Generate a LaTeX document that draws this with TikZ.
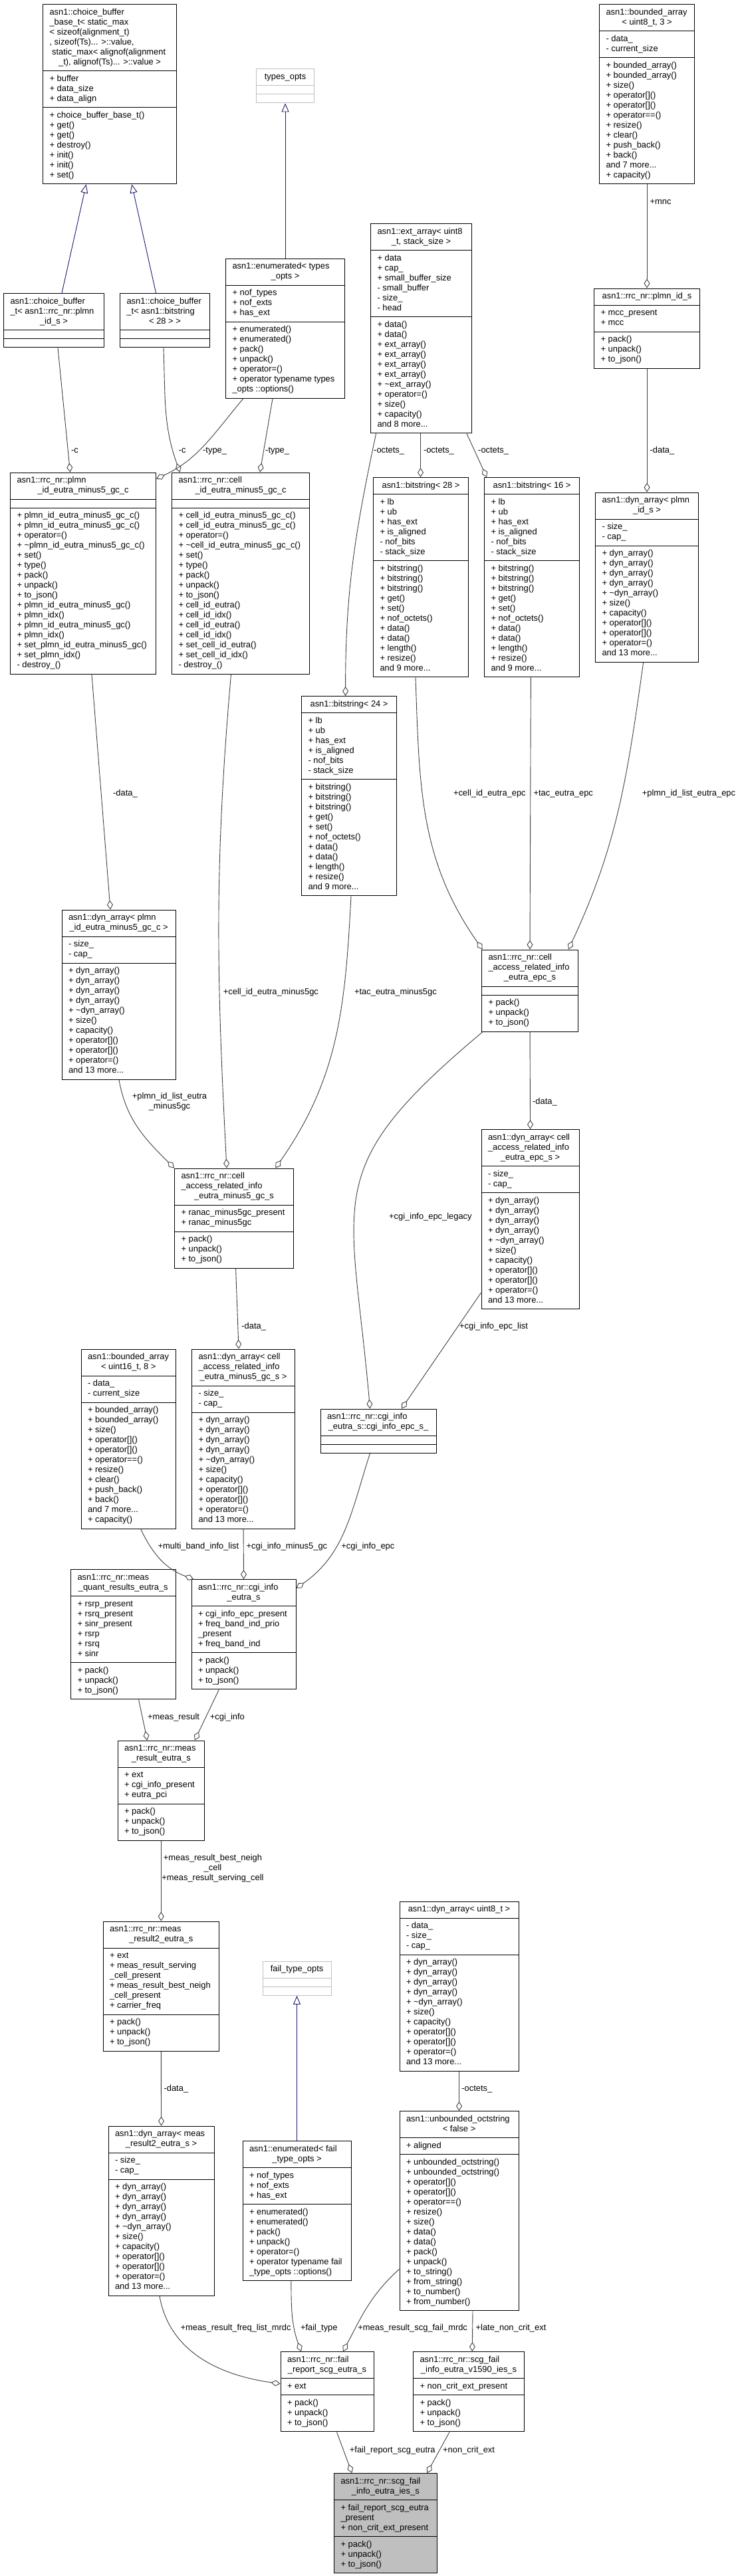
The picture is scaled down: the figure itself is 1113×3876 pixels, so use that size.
\documentclass[tikz,border=0pt]{standalone}
\usepackage{fontspec}
\setmainfont{Liberation Sans}
\usetikzlibrary{shapes.multipart,arrows.meta}
\definecolor{edgegrey}{HTML}{404040}
\definecolor{inhblue}{HTML}{191970}
\definecolor{undocgrey}{HTML}{BFBFBF}
\definecolor{focusgrey}{HTML}{BFBFBF}
\catcode`\_=12
\newcommand{\hdl}[1]{\hbox to\hsize{\strut#1\hfil}}
\newcommand{\hdc}[1]{\hbox to\hsize{\hfil\strut#1\hfil}}
\newcommand{\members}[1]{\begin{tabular}{@{}l@{}}#1\end{tabular}}
\newcommand{\umlclass}[8][]{%
  \node[cls,#1] (#2) at (#3,-#4)
    {\parbox{\dimexpr#5pt-20pt\relax}{#6}%
     \nodepart{two}\makebox[\dimexpr#5pt-20pt\relax][l]{\members{#7}}%
     \nodepart{three}\makebox[\dimexpr#5pt-20pt\relax][l]{\members{#8}}};}
\newcommand{\pujmethods}{+ pack()\\+ unpack()\\+ to_json()}
\newcommand{\dynmethods}{+ dyn_array()\\+ dyn_array()\\+ dyn_array()\\+ dyn_array()\\+ \textasciitilde dyn_array()\\+ size()\\+ capacity()\\+ operator[]()\\+ operator[]()\\+ operator=()\\and 13 more...}
\newcommand{\bamethods}{+ bounded_array()\\+ bounded_array()\\+ size()\\+ operator[]()\\+ operator[]()\\+ operator==()\\+ resize()\\+ clear()\\+ push_back()\\+ back()\\and 7 more...\\+ capacity()}
\newcommand{\bsattrs}{+ lb\\+ ub\\+ has_ext\\+ is_aligned\\- nof_bits\\- stack_size}
\newcommand{\bsmethods}{+ bitstring()\\+ bitstring()\\+ bitstring()\\+ get()\\+ set()\\+ nof_octets()\\+ data()\\+ data()\\+ length()\\+ resize()\\and 9 more...}
\begin{document}
\begin{tikzpicture}[x=1pt, y=1pt,
    cls/.style = {rectangle split, rectangle split parts=3, draw=black, fill=white,
      line width=1.1pt, inner xsep=10pt, inner ysep=4.5pt, anchor=north west,
      font=\fontsize{12.9}{15}\selectfont},
    undoc/.style = {draw=undocgrey},
    focus/.style = {fill=focusgrey},
    agg/.style = {draw=edgegrey, line width=0.9pt, -{Diamond[open, length=14pt, width=9pt]}},
    inh/.style = {draw=inhblue, line width=0.9pt, -{Triangle[open, length=13pt, width=11pt]}},
    lbl/.style = {font=\fontsize{12.9}{15}\selectfont, inner sep=0pt, anchor=west,
      execute at begin node=\strut}]
  \fill[white] (0,0) rectangle (1113,-3876);
  \useasboundingbox (0,0) rectangle (1113,-3876);

  \umlclass{base}{64}{6}{201}{\hdl{asn1::choice_buffer}\hdl{_base_t< static_max}\hdl{< sizeof(alignment_t)}\hdl{, sizeof(Ts)... >::value,}\hdl{\ static_max< alignof(alignment}\hdc{_t), alignof(Ts)... >::value >}}{+ buffer\\+ data_size\\+ data_align}{+ choice_buffer_base_t()\\+ get()\\+ get()\\+ destroy()\\+ init()\\+ init()\\+ set()}
  \umlclass[undoc]{typesopts}{385}{103}{87}{\hdc{types_opts}}{}{}
  \umlclass{ba3}{901}{6}{143}{\hdl{asn1::bounded_array}\hdc{< uint8_t, 3 >}}{- data_\\- current_size}{\bamethods}
  \umlclass{cbplmn}{5}{441}{151}{\hdl{asn1::choice_buffer}\hdl{_t< asn1::rrc_nr::plmn}\hdc{_id_s >}}{}{}
  \umlclass{cbbits}{180}{441}{135}{\hdl{asn1::choice_buffer}\hdl{_t< asn1::bitstring}\hdc{< 28 > >}}{}{}
  \umlclass{enumtypes}{339}{388.5}{179}{\hdl{asn1::enumerated< types}\hdc{_opts >}}{+ nof_types\\+ nof_exts\\+ has_ext}{+ enumerated()\\+ enumerated()\\+ pack()\\+ unpack()\\+ operator=()\\+ operator typename types\\_opts ::options()}
  \umlclass{extarr}{557}{336}{152}{\hdl{asn1::ext_array< uint8}\hdc{_t, stack_size >}}{+ data\\+ cap_\\+ small_buffer_size\\- small_buffer\\- size_\\- head}{+ data()\\+ data()\\+ ext_array()\\+ ext_array()\\+ ext_array()\\+ ext_array()\\+ \textasciitilde ext_array()\\+ operator=()\\+ size()\\+ capacity()\\and 8 more...}
  \umlclass{plmnid}{893}{433.5}{159}{\hdc{asn1::rrc_nr::plmn_id_s}}{+ mcc_present\\+ mcc}{\pujmethods}

  \umlclass{plmneutra}{15}{710.5}{219}{\hdl{asn1::rrc_nr::plmn}\hdc{_id_eutra_minus5_gc_c}}{}{+ plmn_id_eutra_minus5_gc_c()\\+ plmn_id_eutra_minus5_gc_c()\\+ operator=()\\+ \textasciitilde plmn_id_eutra_minus5_gc_c()\\+ set()\\+ type()\\+ pack()\\+ unpack()\\+ to_json()\\+ plmn_id_eutra_minus5_gc()\\+ plmn_idx()\\+ plmn_id_eutra_minus5_gc()\\+ plmn_idx()\\+ set_plmn_id_eutra_minus5_gc()\\+ set_plmn_idx()\\- destroy_()}
  \umlclass{cellid}{258}{710.5}{207}{\hdl{asn1::rrc_nr::cell}\hdc{_id_eutra_minus5_gc_c}}{}{+ cell_id_eutra_minus5_gc_c()\\+ cell_id_eutra_minus5_gc_c()\\+ operator=()\\+ \textasciitilde cell_id_eutra_minus5_gc_c()\\+ set()\\+ type()\\+ pack()\\+ unpack()\\+ to_json()\\+ cell_id_eutra()\\+ cell_id_idx()\\+ cell_id_eutra()\\+ cell_id_idx()\\+ set_cell_id_eutra()\\+ set_cell_id_idx()\\- destroy_()}
  \umlclass{bs28}{561}{718}{143}{\hdc{asn1::bitstring< 28 >}}{\bsattrs}{\bsmethods}
  \umlclass{bs16}{728}{718}{143}{\hdc{asn1::bitstring< 16 >}}{\bsattrs}{\bsmethods}
  \umlclass{dynplmn}{895}{740.5}{155}{\hdl{asn1::dyn_array< plmn}\hdc{_id_s >}}{- size_\\- cap_}{\dynmethods}
  \umlclass{bs24}{453}{1047}{143}{\hdc{asn1::bitstring< 24 >}}{\bsattrs}{\bsmethods}

  \umlclass{dynplmneutra}{92.5}{1368.5}{171}{\hdl{asn1::dyn_array< plmn}\hdc{_id_eutra_minus5_gc_c >}}{- size_\\- cap_}{\dynmethods}
  \umlclass{cardepc}{724}{1428.5}{145}{\hdl{asn1::rrc_nr::cell}\hdl{_access_related_info}\hdc{_eutra_epc_s}}{}{\pujmethods}
  \umlclass{cardm5}{262}{1757.5}{179}{\hdl{asn1::rrc_nr::cell}\hdl{_access_related_info}\hdc{_eutra_minus5_gc_s}}{+ ranac_minus5gc_present\\+ ranac_minus5gc}{\pujmethods}
  \umlclass{dynepc}{723.5}{1699}{147}{\hdl{asn1::dyn_array< cell}\hdl{_access_related_info}\hdc{_eutra_epc_s >}}{- size_\\- cap_}{\dynmethods}
  \umlclass{ba16}{121.5}{2029.5}{142.5}{\hdl{asn1::bounded_array}\hdc{< uint16_t, 8 >}}{- data_\\- current_size}{\bamethods}
  \umlclass{dynm5}{288}{2029.5}{155}{\hdl{asn1::dyn_array< cell}\hdl{_access_related_info}\hdc{_eutra_minus5_gc_s >}}{- size_\\- cap_}{\dynmethods}
  \umlclass{cgiepc}{481.5}{2119.5}{174}{\hdl{asn1::rrc_nr::cgi_info}\hdc{_eutra_s::cgi_info_epc_s_}}{}{}

  \umlclass{measquant}{106}{2361}{157.5}{\hdl{asn1::rrc_nr::meas}\hdc{_quant_results_eutra_s}}{+ rsrp_present\\+ rsrq_present\\+ sinr_present\\+ rsrp\\+ rsrq\\+ sinr}{\pujmethods}
  \umlclass{cgiinfo}{287.5}{2376}{157}{\hdl{asn1::rrc_nr::cgi_info}\hdc{_eutra_s}}{+ cgi_info_epc_present\\+ freq_band_ind_prio\\_present\\+ freq_band_ind}{\pujmethods}
  \umlclass{measres}{176.5}{2618.5}{130.5}{\hdl{asn1::rrc_nr::meas}\hdc{_result_eutra_s}}{+ ext\\+ cgi_info_present\\+ eutra_pci}{\pujmethods}
  \umlclass{measrestwo}{154.5}{2890.5}{174.5}{\hdl{asn1::rrc_nr::meas}\hdc{_result2_eutra_s}}{+ ext\\+ meas_result_serving\\_cell_present\\+ meas_result_best_neigh\\_cell_present\\+ carrier_freq}{\pujmethods}
  \umlclass[undoc]{failtypeopts}{394.5}{2950.5}{103}{\hdc{fail_type_opts}}{}{}
  \umlclass{dynuint}{600.5}{2860.5}{179}{\hdc{asn1::dyn_array< uint8_t >}}{- data_\\- size_\\- cap_}{\dynmethods}

  \umlclass{dynmrtwo}{162.5}{3198.5}{159}{\hdl{asn1::dyn_array< meas}\hdc{_result2_eutra_s >}}{- size_\\- cap_}{\dynmethods}
  \umlclass{enumfail}{364.5}{3221}{163}{\hdl{asn1::enumerated< fail}\hdc{_type_opts >}}{+ nof_types\\+ nof_exts\\+ has_ext}{+ enumerated()\\+ enumerated()\\+ pack()\\+ unpack()\\+ operator=()\\+ operator typename fail\\_type_opts ::options()}
  \umlclass{unboct}{600.5}{3176}{179}{\hdl{asn1::unbounded_octstring}\hdc{< false >}}{+ aligned}{+ unbounded_octstring()\\+ unbounded_octstring()\\+ operator[]()\\+ operator[]()\\+ operator==()\\+ resize()\\+ size()\\+ data()\\+ data()\\+ pack()\\+ unpack()\\+ to_string()\\+ from_string()\\+ to_number()\\+ from_number()}
  \umlclass{failrep}{421.5}{3538}{140}{\hdl{asn1::rrc_nr::fail}\hdc{_report_scg_eutra_s}}{+ ext}{\pujmethods}
  \umlclass{vfifteen}{621}{3538}{167}{\hdl{asn1::rrc_nr::scg_fail}\hdc{_info_eutra_v1590_ies_s}}{+ non_crit_ext_present}{\pujmethods}
  \umlclass[focus]{ies}{502}{3721}{154.5}{\hdl{asn1::rrc_nr::scg_fail}\hdc{_info_eutra_ies_s}}{+ fail_report_scg_eutra\\_present\\+ non_crit_ext_present}{\pujmethods}

  \draw[inh] ([xshift=88]cbplmn.north west) -- ([xshift=65.6]base.south west);
  \draw[inh] ([xshift=54.6]cbbits.north west) -- ([xshift=134.2]base.south west);
  \draw[inh] (enumtypes.north) -- (typesopts.south);
  \draw[inh] (enumfail.north) -- (failtypeopts.south);

  \draw[agg] (ba3.south) -- (plmnid.north);
  \draw[agg] ([xshift=82]cbplmn.south west) -- ([xshift=90.5]plmneutra.north west);
  \draw[agg] ([xshift=66]cbbits.south west) to[out=-88,in=110] ([xshift=12.7]cellid.north west);
  \draw[agg] ([xshift=26.7]enumtypes.south west) to[out=-130,in=25] ([yshift=-10]plmneutra.north east);
  \draw[agg] ([xshift=71]enumtypes.south west) -- ([xshift=133]cellid.north west);
  \draw[agg] ([xshift=8.6]extarr.south west) to[out=-102,in=90] ([xshift=66.6]bs24.north west);
  \draw[agg] ([xshift=75.5]extarr.south west) -- ([xshift=71.5]bs28.north west);
  \draw[agg] ([xshift=145]extarr.south west) -- ([xshift=4]bs16.north west);
  \draw[agg] (plmnid.south) -- (dynplmn.north);
  \draw[agg] ([xshift=123]plmneutra.south west) -- ([xshift=73.5]dynplmneutra.north west);
  \draw[agg] ([xshift=89.5]cellid.south west) to[out=-95,in=93] ([xshift=79]cardm5.north west);
  \draw[agg] ([xshift=75]bs24.south west) to[out=-93,in=55] ([xshift=152.3]cardm5.north west);
  \draw[agg] ([xshift=86.5]dynplmneutra.south west) to[out=-80,in=135] (cardm5.north west);
  \draw[agg] ([xshift=64]bs28.south west) to[out=-88,in=125] ([xshift=1.6]cardepc.north west);
  \draw[agg] ([xshift=70.4]bs16.south west) -- ([xshift=73]cardepc.north west);
  \draw[agg] ([xshift=72.6]dynplmn.south west) to[out=-98,in=65] ([xshift=131]cardepc.north west);
  \draw[agg] (cardepc.south) -- (dynepc.north);
  \draw[agg] ([xshift=1.6]cardepc.south west) to[out=-140,in=95,looseness=1.4] ([xshift=75]cgiepc.north west);
  \draw[agg] ([xshift=92.6]cardm5.south west) -- ([xshift=71]dynm5.north west);
  \draw[agg] ([yshift=25.3]dynepc.south west) -- ([xshift=122.5]cgiepc.north west);
  \draw[agg] ([xshift=90.3]ba16.south west) to[out=-65,in=160] ([xshift=3.5]cgiinfo.north west);
  \draw[agg] (dynm5.south) -- (cgiinfo.north);
  \draw[agg] ([xshift=75]cgiepc.south west) to[out=-108,in=35] ([yshift=-13.7]cgiinfo.north east);
  \draw[agg] ([xshift=102.6]measquant.south west) -- ([xshift=45]measres.north west);
  \draw[agg] ([xshift=41.8]cgiinfo.south west) -- ([xshift=116.4]measres.north west);
  \draw[agg] (measres.south) -- (measrestwo.north);
  \draw[agg] (measrestwo.south) -- (dynmrtwo.north);
  \draw[agg] (dynuint.south) -- (unboct.north);
  \draw[agg] ([xshift=77.5]dynmrtwo.south west) to[out=-80,in=172] ([yshift=-48.7]failrep.north west);
  \draw[agg] ([xshift=73.4]enumfail.south west) to[out=-90,in=110] ([xshift=31.4]failrep.north west);
  \draw[agg] ([yshift=-238.3]unboct.north west) to[out=-138,in=62] ([xshift=94.5]failrep.north west);
  \draw[agg] ([xshift=110.5]unboct.south west) -- ([xshift=89.3]vfifteen.north west);
  \draw[agg] ([xshift=85]failrep.south west) -- ([xshift=27.3]ies.north west);
  \draw[agg] ([xshift=55]vfifteen.south west) -- ([xshift=140.3]ies.north west);

  \node[lbl] (lmnc) at (977.4,-304) {+mnc};
  \node[lbl] (lcone) at (107,-678.6) {-c};
  \node[lbl] (lctwo) at (268.6,-678.6) {-c};
  \node[lbl] (ltypeone) at (305,-678.6) {-type_};
  \node[lbl] (ltypetwo) at (399,-678.6) {-type_};
  \node[lbl] (loctone) at (562,-678.6) {-octets_};
  \node[lbl] (locttwo) at (636.8,-678.6) {-octets_};
  \node[lbl] (loctthree) at (719,-678.6) {-octets_};
  \node[lbl] (ldataone) at (977.4,-678.6) {-data_};
  \node[lbl] (ldatatwo) at (170,-1194.3) {-data_};
  \node[lbl] (lcidepc) at (681.8,-1194.3) {+cell_id_eutra_epc};
  \node[lbl] (ltacepc) at (802.4,-1194.3) {+tac_eutra_epc};
  \node[lbl] (lplmnepc) at (965.7,-1194.3) {+plmn_id_list_eutra_epc};
  \node[lbl] (lcidm) at (335.7,-1493.5) {+cell_id_eutra_minus5gc};
  \node[lbl] (ltacm) at (532.9,-1493.5) {+tac_eutra_minus5gc};
  \node[lbl, anchor=center, align=center] (lplmnm) at (255,-1659) {+plmn_id_list_eutra\\_minus5gc};
  \node[lbl] (ldatathree) at (800.9,-1658.5) {-data_};
  \node[lbl] (llegacy) at (585,-1831.4) {+cgi_info_epc_legacy};
  \node[lbl] (ldatafour) at (363.2,-1996.7) {-data_};
  \node[lbl] (lepclist) at (690.9,-1996.7) {+cgi_info_epc_list};
  \node[lbl] (lmbil) at (237.5,-2327.5) {+multi_band_info_list};
  \node[lbl] (lcim) at (370.4,-2327.5) {+cgi_info_minus5_gc};
  \node[lbl] (lciepc) at (513.2,-2327.5) {+cgi_info_epc};
  \node[lbl] (lmr) at (222,-2584.5) {+meas_result};
  \node[lbl] (lci) at (315.7,-2584.5) {+cgi_info};
  \node[lbl, anchor=center, align=center] (lbest) at (320,-2812.5) {+meas_result_best_neigh\\_cell\\+meas_result_serving_cell};
  \node[lbl] (ldatafive) at (246.4,-3143.7) {-data_};
  \node[lbl] (loctfour) at (694.2,-3143.7) {-octets_};
  \node[lbl] (lfreq) at (271.4,-3503.5) {+meas_result_freq_list_mrdc};
  \node[lbl] (lft) at (451.8,-3503.5) {+fail_type};
  \node[lbl] (lscg) at (538.2,-3503.5) {+meas_result_scg_fail_mrdc};
  \node[lbl] (llate) at (715.4,-3503.5) {+late_non_crit_ext};
  \node[lbl] (lfrep) at (525.7,-3687.2) {+fail_report_scg_eutra};
  \node[lbl] (lnce) at (666,-3687.2) {+non_crit_ext};
\end{tikzpicture}
\end{document}
